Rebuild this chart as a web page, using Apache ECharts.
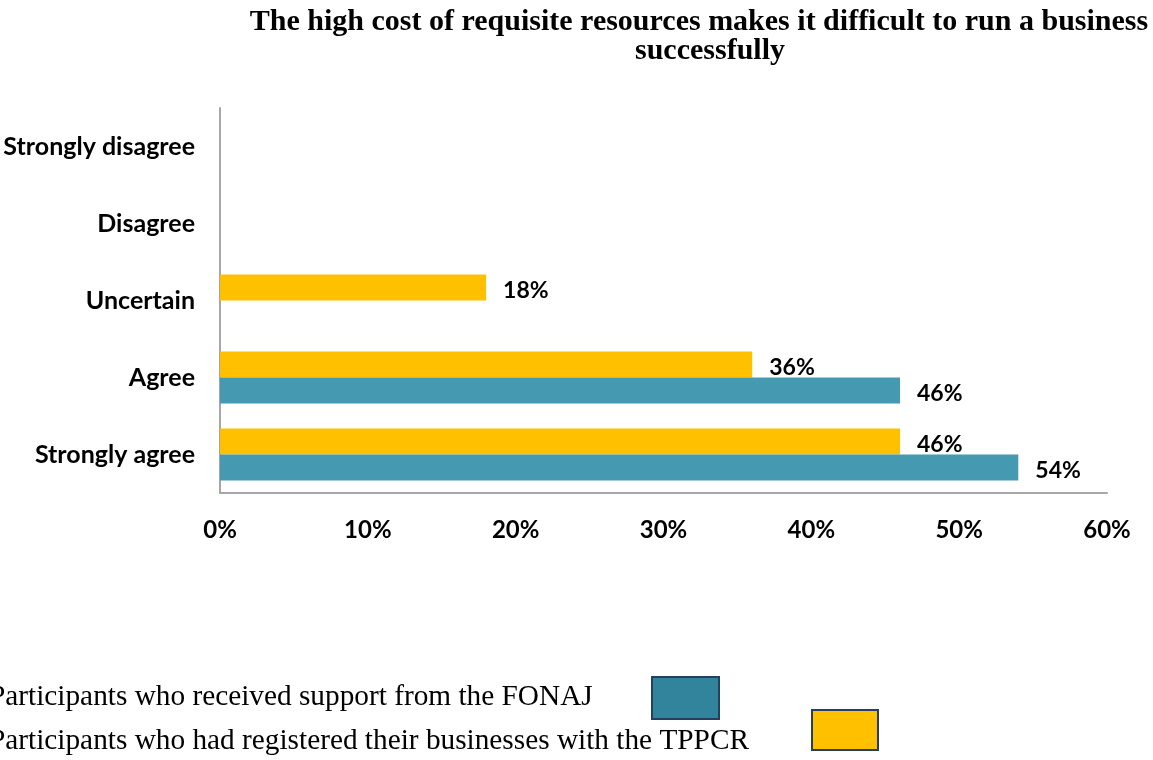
<!DOCTYPE html>
<html>
<head>
<meta charset="utf-8">
<script src="https://cdn.jsdelivr.net/npm/echarts@6/dist/echarts.min.js"></script>
<style>
  html, body { margin: 0; padding: 0; background: #fff; }
  #chart { width: 1153px; height: 760px; }
</style>
</head>
<body>
<div id="chart"></div>
<script>
// Response categories, bottom to top
const categories = ['Strongly agree', 'Agree', 'Uncertain', 'Disagree', 'Strongly disagree'];
// Share of participants (%) per response
const fonajValues = [54, 46, null, null, null];
const tppcrValues = [46, 36, 18, null, null];
const seriesNames = [
  'Participants who received support from the FONAJ',
  'Participants who had registered their businesses with the TPPCR'
];
const titleLines = [
  'The high cost of requisite resources makes it difficult to run a business',
  'successfully'
];
const xTicks = [0, 10, 20, 30, 40, 50, 60];

const TEAL = '#4599B1';
const YELLOW = '#FFC000';
const SANS = 'Lato, "Open Sans", sans-serif';
const SERIF = '"Liberation Serif", "Times New Roman", serif';

const chart = echarts.init(document.getElementById('chart'));

const valueLabel = {
  show: true,
  position: 'right',
  distance: 17,
  offset: [0, 3],
  formatter: p => p.value + '%',
  fontFamily: SANS,
  fontWeight: 'bold',
  fontSize: 23,
  color: '#000'
};

chart.setOption({
  backgroundColor: '#fff',
  animation: false,
  grid: { left: 220, right: 46, top: 108, bottom: 267, containLabel: false },
  xAxis: {
    type: 'value',
    min: xTicks[0],
    max: xTicks[xTicks.length - 1],
    interval: 10,
    splitLine: { show: false },
    axisTick: { show: false },
    axisLine: { show: true, lineStyle: { color: '#A6A6A6', width: 2 } },
    axisLabel: {
      margin: 25,
      formatter: v => v + '%',
      fontFamily: SANS,
      fontWeight: 'bold',
      fontSize: 24,
      color: '#000'
    }
  },
  yAxis: {
    type: 'category',
    data: categories,
    axisTick: { show: false },
    axisLine: { show: true, lineStyle: { color: '#A6A6A6', width: 2 } },
    axisLabel: {
      margin: 25,
      fontFamily: SANS,
      fontWeight: 'bold',
      fontSize: 25,
      color: '#000'
    }
  },
  series: [
    {
      name: seriesNames[1],
      type: 'bar',
      data: tppcrValues,
      barWidth: 26,
      barGap: '0%',
      itemStyle: { color: YELLOW },
      label: valueLabel
    },
    {
      name: seriesNames[0],
      type: 'bar',
      data: fonajValues,
      barWidth: 26,
      barGap: '0%',
      itemStyle: { color: TEAL },
      label: valueLabel
    }
  ],
  graphic: [
    // Title, two centred lines
    {
      type: 'text', x: 699, y: 22,
      style: { text: titleLines[0], font: 'bold 30px ' + SERIF, fill: '#000', align: 'center', verticalAlign: 'middle' }
    },
    {
      type: 'text', x: 710, y: 51,
      style: { text: titleLines[1], font: 'bold 30px ' + SERIF, fill: '#000', align: 'center', verticalAlign: 'middle' }
    },
    // Legend: series name followed by its swatch
    {
      type: 'text', x: -11, y: 697,
      style: { text: seriesNames[0], font: '29.3px ' + SERIF, fill: '#000', verticalAlign: 'middle' }
    },
    {
      type: 'rect', shape: { x: 652, y: 677, width: 67, height: 42 },
      style: { fill: '#31849B', stroke: '#243F60', lineWidth: 2 }
    },
    {
      type: 'text', x: -11, y: 741,
      style: { text: seriesNames[1], font: '29.3px ' + SERIF, fill: '#000', verticalAlign: 'middle' }
    },
    {
      type: 'rect', shape: { x: 812, y: 710, width: 66, height: 40 },
      style: { fill: YELLOW, stroke: '#243F60', lineWidth: 2 }
    }
  ]
});
</script>
</body>
</html>
